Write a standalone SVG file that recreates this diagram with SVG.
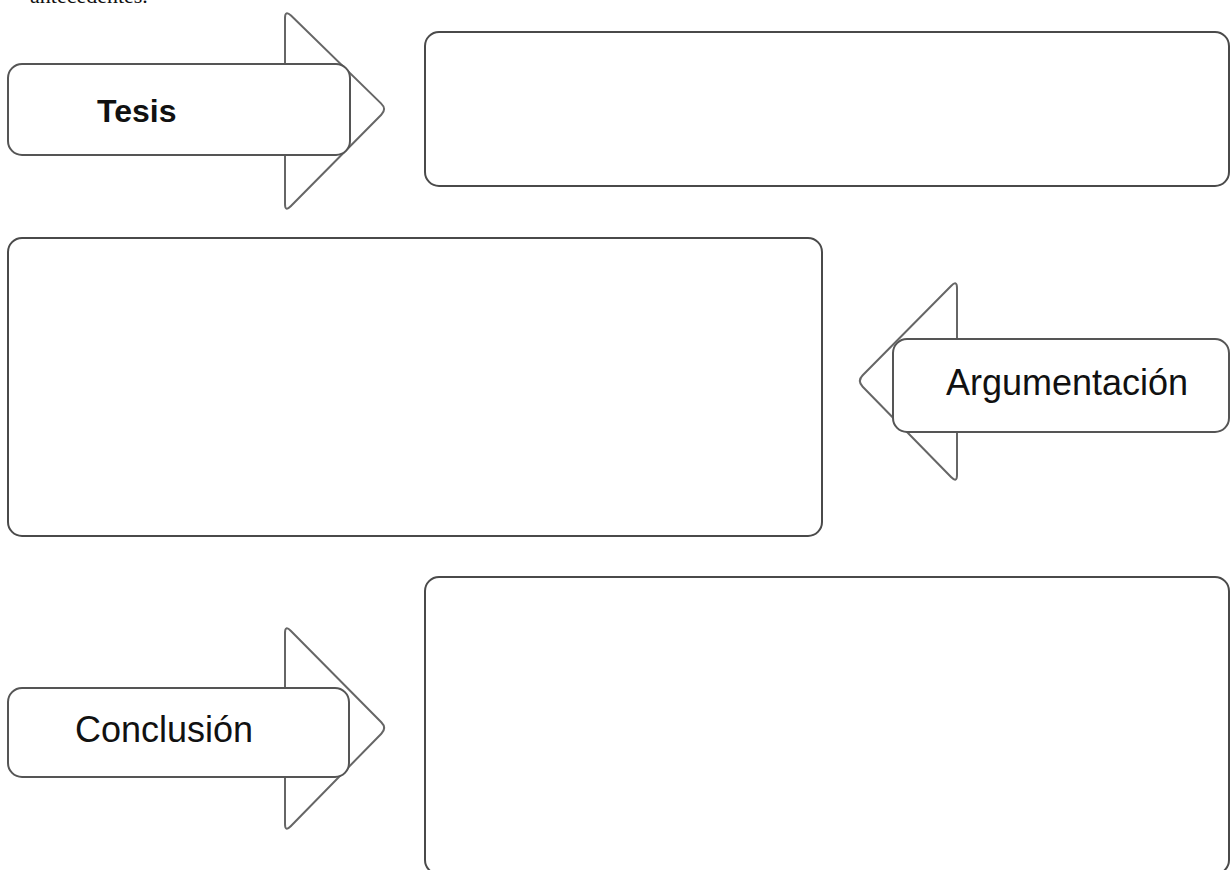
<svg xmlns="http://www.w3.org/2000/svg" width="1231" height="870" viewBox="0 0 1231 870">
  <style>
    .box { fill: #ffffff; stroke: #4a4a4a; stroke-width: 2; }
    .head { fill: #ffffff; stroke: #666666; stroke-width: 2; stroke-linejoin: round; }
    .lab { fill: #ffffff; stroke: #555555; stroke-width: 2; }
    .t { font-family: "Liberation Sans", Arial, sans-serif; font-size: 36px; fill: #111111; }
    .tb { font-weight: bold; font-size: 32px; }
    .top { font-family: "Liberation Serif", "Times New Roman", serif; font-size: 22px; fill: #111111; }
  </style>
  <rect x="0" y="0" width="1231" height="870" fill="#ffffff"/>
  <text class="top" x="30" y="3">antecedentes.</text>

  <g id="connectors"></g>

  <g id="node-tesis">
    <path class="head" d="M285,18 Q285,10 291,15.6 L381,103.4 Q387,109 381.3,114.7 L290.7,206.3 Q285,212 285,204 Z"/>
    <rect class="lab" x="8" y="64" width="342" height="91" rx="14"/>
    <text class="t tb" x="97" y="122">Tesis</text>
  </g>

  <g id="box-tesis">
    <rect class="box" x="425" y="32" width="804" height="154" rx="14"/>
  </g>

  <g id="box-argumentacion">
    <rect class="box" x="8" y="238" width="814" height="298" rx="14"/>
  </g>

  <g id="node-argumentacion">
    <path class="head" d="M957,288 Q957,280 951.3,285.7 L862.7,375.3 Q857,381 862.7,386.7 L951.3,477.3 Q957,483 957,475 Z"/>
    <rect class="lab" x="893" y="339" width="336" height="93" rx="14"/>
    <text class="t" x="946" y="395">Argumentación</text>
  </g>

  <g id="node-conclusion">
    <path class="head" d="M285,633 Q285,625 290.7,630.7 L381.3,722.3 Q387,728 381.3,733.7 L290.7,826.3 Q285,832 285,824 Z"/>
    <rect class="lab" x="8" y="688" width="341" height="89" rx="14"/>
    <text class="t" x="75" y="742">Conclusión</text>
  </g>

  <g id="box-conclusion">
    <rect class="box" x="425" y="577" width="804" height="297" rx="14"/>
  </g>
</svg>
